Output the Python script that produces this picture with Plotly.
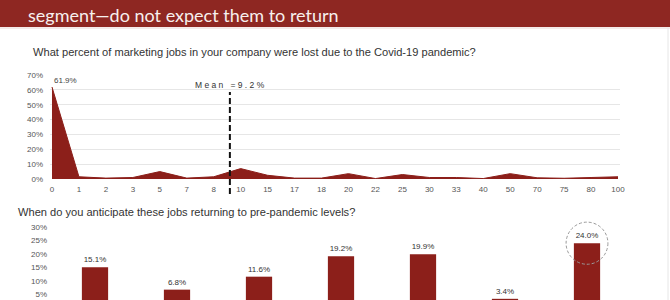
import plotly.graph_objects as go

# ---- data ----
loss_categories = ["0", "1", "2", "3", "5", "7", "8", "10", "15", "17", "18", "20",
                   "22", "25", "30", "33", "40", "50", "70", "75", "80", "100"]
loss_values = [61.9, 1.5, 0.6, 1.0, 5.0, 0.6, 1.5, 7.0, 2.5, 0.6, 0.6, 3.6,
               0.3, 3.0, 1.0, 1.0, 0.3, 3.6, 0.8, 0.5, 1.0, 1.5]
mean_value = 9.2

return_categories = ["Within 3 months", "4-6 months", "7-12 months", "1-2 years",
                     "2-3 years", "More than 3 years", "Never"]
return_values = [15.1, 6.8, 11.6, 19.2, 19.9, 3.4, 24.0]

top_ticks = [0, 10, 20, 30, 40, 50, 60, 70]
bottom_ticks = [5, 10, 15, 20, 25, 30]

RED = "#8c1f1a"
BAND = "#8e2722"
W, H = 670, 300
FONT = "Liberation Sans, Arial"


def py(p):
    return 1 - p / H


def px(p):
    return p / W


fig = go.Figure()

idx = list(range(len(loss_categories)))
fig.add_trace(go.Scatter(
    x=idx, y=loss_values, mode="lines", fill="tozeroy",
    line=dict(color=RED, width=1), fillcolor=RED,
    xaxis="x", yaxis="y", hoverinfo="skip", showlegend=False))

fig.add_trace(go.Bar(
    x=return_categories, y=return_values, marker=dict(color=RED, line=dict(width=0)),
    text=[f"{v:.1f}%" for v in return_values], textposition="outside",
    textfont=dict(size=8, color="#333", family=FONT),
    cliponaxis=False, xaxis="x2", yaxis="y2", showlegend=False))

# mean position by interpolation between neighbouring categories
num = [float(c) for c in loss_categories]
mean_pos = 0
for i in range(len(num) - 1):
    if num[i] <= mean_value <= num[i + 1]:
        mean_pos = i + (mean_value - num[i]) / (num[i + 1] - num[i])
        break

shapes = [
    dict(type="rect", xref="paper", yref="paper", x0=0, x1=1, y0=py(27), y1=1,
         fillcolor=BAND, line=dict(width=0), layer="below"),
    dict(type="line", xref="paper", yref="paper", x0=0, x1=1, y0=py(28), y1=py(28),
         line=dict(color="#e8d6d4", width=1)),
    dict(type="line", xref="paper", yref="paper", x0=px(668), x1=px(668), y0=0, y1=py(28),
         line=dict(color="#e6e6e6", width=1)),
    dict(type="line", xref="x", yref="paper", x0=mean_pos, x1=mean_pos,
         y0=py(194), y1=py(92), line=dict(color="#111", width=2, dash="6px,3px")),
]
imax = return_values.index(max(return_values))
vmax = max(return_values)
shapes.append(dict(type="circle", xref="x2", yref="y2",
                   x0=imax - 0.255, x1=imax + 0.255, y0=vmax - 7.8, y1=vmax + 7.8,
                   line=dict(color="#9a9a9a", width=1, dash="3px,2px")))

annotations = [
    dict(text="segment\u2014do not expect them to return", xref="paper", yref="paper",
         x=px(26), y=py(15), xanchor="left", yanchor="middle", showarrow=False,
         font=dict(family="Lato, Open Sans", size=18, color="#f7f0ee")),
    dict(text="What percent of marketing jobs in your company were lost due to the Covid-19 pandemic?",
         xref="paper", yref="paper", x=px(31), y=py(52), xanchor="left", yanchor="middle",
         showarrow=False, font=dict(family=FONT, size=11.1, color="#333")),
    dict(text="When do you anticipate these jobs returning to pre-pandemic levels?",
         xref="paper", yref="paper", x=px(16), y=py(212), xanchor="left", yanchor="middle",
         showarrow=False, font=dict(family=FONT, size=11.1, color="#333")),
    dict(text=" ".join(f"Mean ={mean_value}%"), xref="x", yref="paper", x=mean_pos,
         y=py(85), xanchor="center", yanchor="middle", showarrow=False,
         font=dict(family=FONT, size=8.5, color="#333")),
    dict(text=f"{loss_values[0]:.1f}%", xref="x", yref="y", x=0, y=loss_values[0],
         xanchor="left", yanchor="bottom", showarrow=False,
         font=dict(family=FONT, size=8, color="#444")),
]

fig.update_layout(
    width=W, height=H, margin=dict(l=0, r=0, t=0, b=0, autoexpand=False),
    paper_bgcolor="white", plot_bgcolor="white",
    shapes=shapes, annotations=annotations, bargap=0.68,
    xaxis=dict(domain=[px(50), px(620)], range=[-0.074, len(idx) - 1 + 0.074],
               tickmode="array", tickvals=idx, ticktext=loss_categories,
               showgrid=False, zeroline=False, showline=False, ticks="",
               tickfont=dict(family=FONT, size=8, color="#555"),
               ticklabelstandoff=4, anchor="y", automargin=False),
    yaxis=dict(domain=[py(179), py(75)], range=[0, 70], tickmode="array",
               tickvals=top_ticks, ticktext=[f"{t}%" for t in top_ticks],
               showgrid=True, gridcolor="#e6e6e6", gridwidth=1,
               zeroline=False, showline=False, ticks="",
               tickfont=dict(family=FONT, size=8, color="#555"),
               ticklabelstandoff=6, anchor="x", automargin=False),
    xaxis2=dict(domain=[px(54), px(628)], range=[-0.5, 6.5], showgrid=False,
                zeroline=False, showline=False, ticks="", anchor="y2", automargin=False,
                showticklabels=False),
    yaxis2=dict(domain=[0, py(205)], range=[8 / 2.7, 8 / 2.7 + 95 / 2.7],
                tickmode="array", tickvals=bottom_ticks,
                ticktext=[f"{t}%" for t in bottom_ticks], showgrid=False, zeroline=False,
                showline=False, ticks="", anchor="x2", automargin=False,
                tickfont=dict(family=FONT, size=8, color="#555"),
                ticklabelstandoff=6),
)

fig.write_html("out.html")
